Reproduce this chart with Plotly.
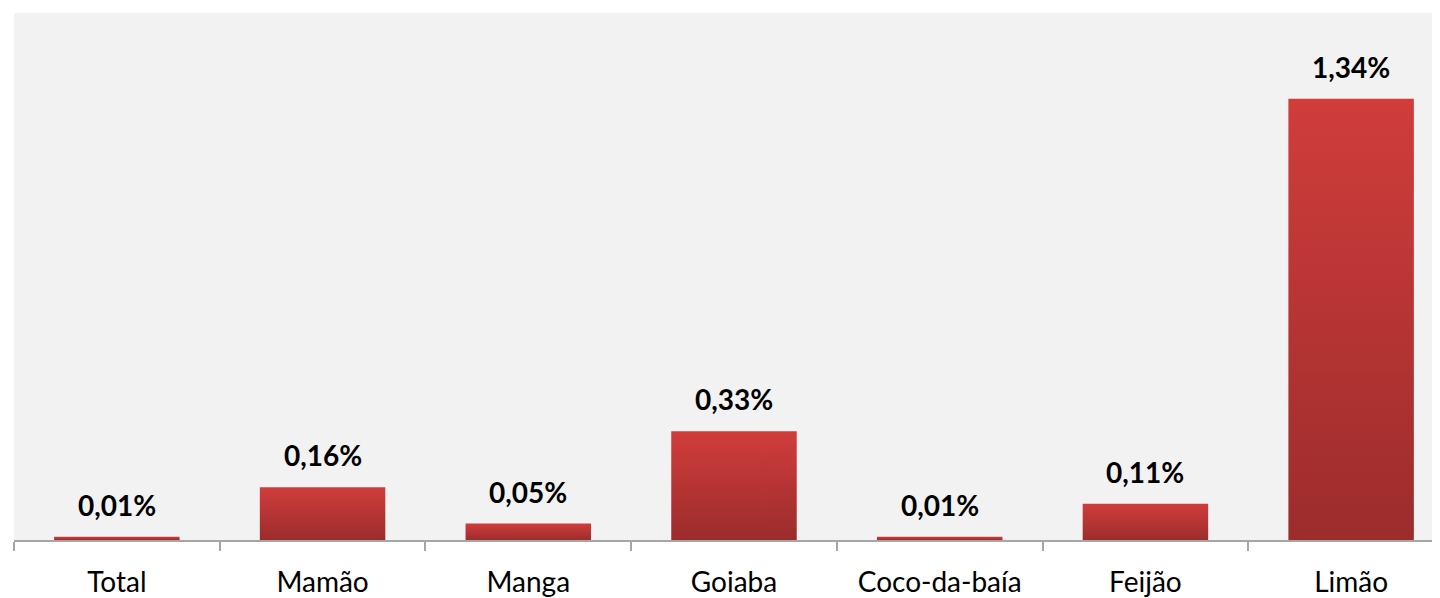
import plotly.graph_objects as go

categories = ["Total", "Mamão", "Manga", "Goiaba", "Coco-da-baía", "Feijão", "Limão"]
values = [0.01, 0.16, 0.05, 0.33, 0.01, 0.11, 1.34]
labels = ["0,01%", "0,16%", "0,05%", "0,33%", "0,01%", "0,11%", "1,34%"]

bar_w = 0.61
fig = go.Figure()
for i, v in enumerate(values):
    x0, x1 = i - bar_w / 2, i + bar_w / 2
    fig.add_trace(go.Scatter(
        x=[x0, x1, x1, x0, x0], y=[0, 0, v, v, 0],
        mode="lines", line=dict(width=0),
        fill="toself",
        fillgradient=dict(type="vertical",
                          colorscale=[[0, "#9c2c2c"], [1, "#d03d3b"]]),
        hoverinfo="skip", showlegend=False,
    ))

for i, (v, t) in enumerate(zip(values, labels)):
    fig.add_annotation(x=i, y=v, text=t, showarrow=False, yanchor="bottom",
                       yshift=13, font=dict(family="Lato", size=28, color="#000000",
                                            weight="bold"))

fig.update_layout(
    width=1432, height=590,
    margin=dict(l=6, r=0, t=5, b=55),
    paper_bgcolor="#ffffff", plot_bgcolor="#f2f2f2",
    font=dict(family="Lato", size=28, color="#000000"),
    showlegend=False,
)
fig.update_xaxes(
    range=[-0.5, 6.432], tickmode="array",
    tickvals=list(range(len(categories))), ticktext=categories,
    ticks="outside", ticklen=17, tickcolor="rgba(0,0,0,0)",
    showgrid=False, zeroline=False,
    showline=True, linecolor="#a6a6a6", linewidth=1.5,
    tickfont=dict(family="Lato", size=28, color="#000000"),
    minor=dict(tick0=0.5, dtick=1, ticks="outside", ticklen=9,
               tickcolor="#a6a6a6", tickwidth=1.5, showgrid=False),
)
fig.update_yaxes(range=[0, 1.6], showgrid=False, zeroline=False,
                 showticklabels=False, showline=False)

fig.write_html("out.html")
